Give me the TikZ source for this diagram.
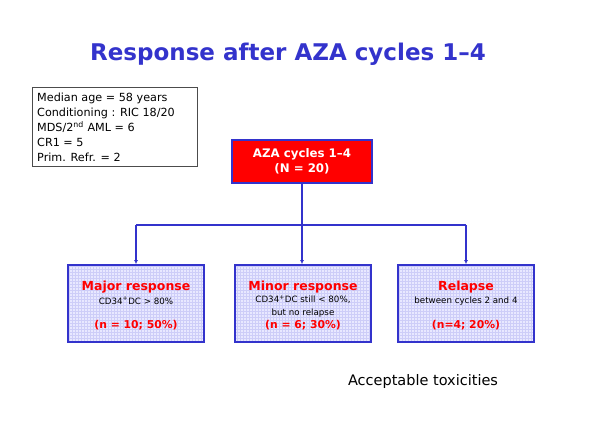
\documentclass[tikz,border=0pt]{standalone}
\usepackage{fontspec}
\setmainfont{DejaVu Sans}
\usetikzlibrary{patterns,arrows.meta}
\definecolor{ttlblue}{RGB}{51,51,204}
\definecolor{lineblue}{RGB}{51,51,204}
\definecolor{boxfill}{RGB}{232,232,255}
\definecolor{gridc}{RGB}{205,205,248}
\definecolor{txtred}{RGB}{255,0,0}
\tikzset{
  infobox/.style={draw=black!70, line width=0.8pt, fill=white, minimum width=165pt, minimum height=79pt, align=left, anchor=north west, inner sep=0pt},
  topbox/.style={draw=lineblue, line width=1.8pt, fill=red, minimum width=140pt, minimum height=43pt, align=center, text=white, font=\bfseries\fontsize{11.8}{15}\selectfont},
  resbox/.style={draw=lineblue, line width=1.8pt, preaction={fill=boxfill}, pattern=grid, pattern color=gridc, minimum width=136pt, minimum height=77pt},
  conn/.style={draw=lineblue, line width=1.4pt},
  arr/.style={conn, -{Latex[length=4pt,width=4pt]}},
  rtitle/.style={text=txtred, font=\bfseries\fontsize{12.5}{14}\selectfont},
  rsub/.style={font=\fontsize{8.7}{13}\selectfont, align=center},
  rnum/.style={text=txtred, font=\bfseries\fontsize{10.8}{12}\selectfont}
}
\begin{document}
\begin{tikzpicture}[x=1pt,y=-1pt]
\path[use as bounding box, fill=white] (0,0) rectangle (598,422);
\node[text=ttlblue, font=\bfseries\fontsize{23}{27}\selectfont] (title) at (288,54) {Response after AZA cycles 1–4};
\node[infobox] (info) at (32,87) {};
\node[anchor=north west, align=left, font=\fontsize{11.2}{15}\selectfont, inner sep=0pt] (infotext) at (37,92.5) {Median age = 58 years\\Conditioning : RIC 18/20\\MDS/2\textsuperscript{nd} AML = 6\\CR1 = 5\\Prim. Refr. = 2};
\node[topbox] (aza) at (302,161.5) {AZA cycles 1–4\\(N = 20)};
\node[resbox] (major) at (136,303.5) {};
\node[resbox] (minor) at (303,303.5) {};
\node[resbox] (relapse) at (466,303.5) {};
\node[rtitle] (majt) at (136,287) {Major response};
\node[rsub] (majs) at (136,301) {CD34\textsuperscript{+}DC > 80\%};
\node[rnum] (majn) at (136,325) {(n = 10; 50\%)};
\node[rtitle] (mint) at (303,287) {Minor response};
\node[rsub] (mins) at (303,306.5) {CD34\textsuperscript{+}DC still < 80\%,\\but no relapse};
\node[rnum] (minn) at (303,325) {(n = 6; 30\%)};
\node[rtitle] (relt) at (466,287) {Relapse};
\node[rsub] (rels) at (466,301) {between cycles 2 and 4};
\node[rnum] (reln) at (466,325) {(n=4; 20\%)};
\coordinate (hub) at (302,225);
\coordinate (lft) at (136,225);
\coordinate (rgt) at (466,225);
\draw[conn] (aza.south) -- (hub);
\draw[conn] (lft) -- (rgt);
\draw[arr] (lft) -- (major.north);
\draw[arr] (hub) -- (minor.north -| hub);
\draw[arr] (rgt) -- (relapse.north);
\node[font=\fontsize{14.5}{17}\selectfont] (tox) at (423,382) {Acceptable toxicities};
\end{tikzpicture}
\end{document}
